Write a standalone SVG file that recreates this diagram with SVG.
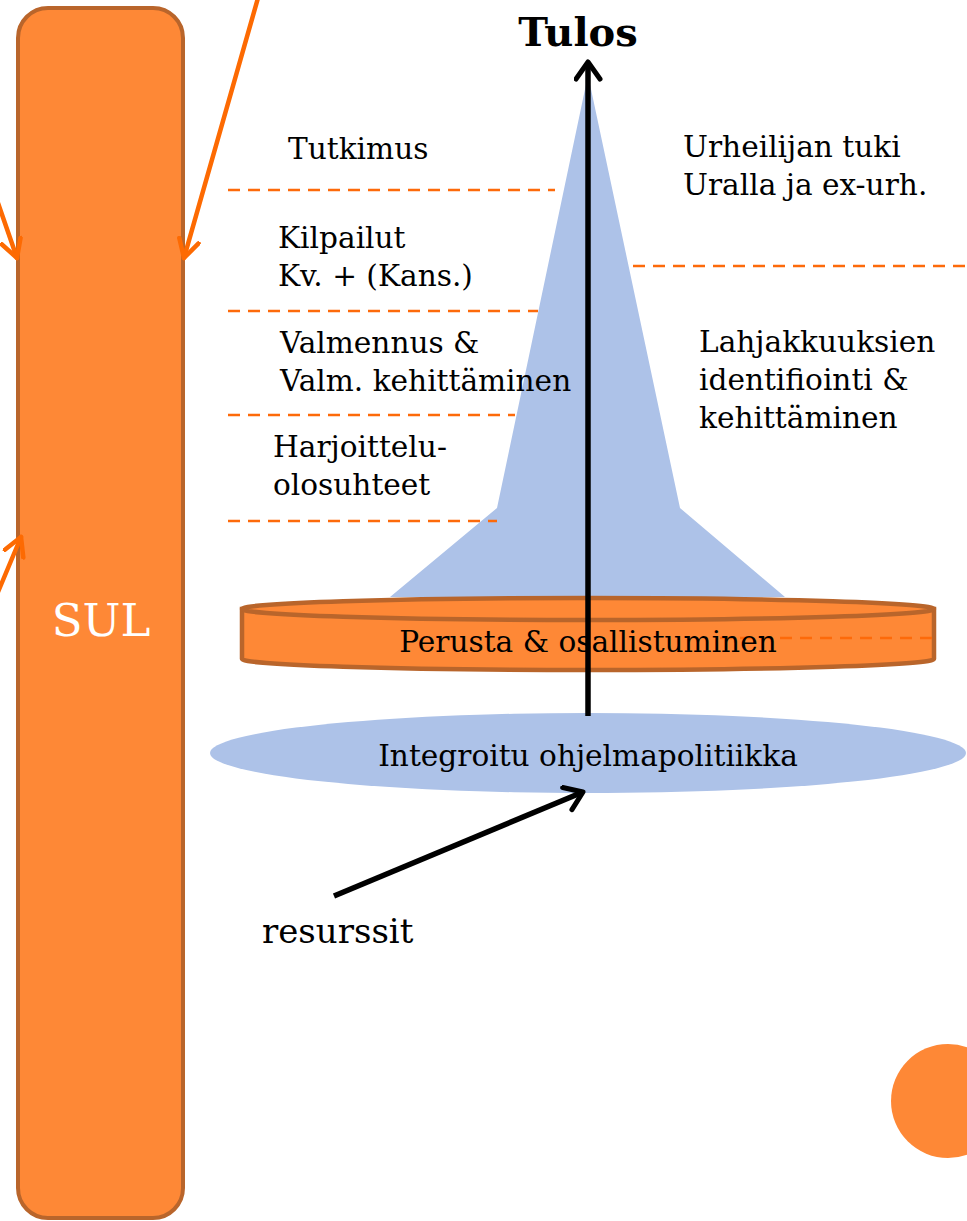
<svg xmlns="http://www.w3.org/2000/svg" width="967" height="1221" viewBox="0 0 967 1221">
<style>
.t{font-family:"DejaVu Serif","Liberation Serif",serif;font-size:29.6px;fill:#000}
.dash{stroke:#fd6a0a;stroke-width:2.5;stroke-dasharray:12 8;fill:none}
.oarr{stroke:#fd6a02;stroke-width:4.5;fill:none;stroke-linecap:round}
.barr{stroke:#000;stroke-width:5.5;fill:none}
</style>
<defs>
<marker id="oh" markerUnits="userSpaceOnUse" markerWidth="30" markerHeight="30" refX="20" refY="12" orient="auto">
<path d="M2,2 L20,12 L2,22" fill="none" stroke="#fd6a02" stroke-width="4.5" stroke-linecap="round" stroke-linejoin="round"/>
</marker>
<marker id="bh" markerUnits="userSpaceOnUse" markerWidth="30" markerHeight="30" refX="20" refY="14" orient="auto">
<path d="M3,2 L20,14 L3,26" fill="none" stroke="#000" stroke-width="5" stroke-linecap="round" stroke-linejoin="round"/>
</marker>
</defs>
<rect width="967" height="1221" fill="#fff"/>
<g id="sul">
<rect x="18" y="8" width="165" height="1210" rx="30" fill="#fe8836" stroke="#b9652b" stroke-width="4"/>
<text x="101" y="636" text-anchor="middle" style="font-family:'DejaVu Serif','Liberation Serif',serif;font-size:45px;fill:#fff">SUL</text>
</g>
<g id="pyramid">
<polygon points="588,75 497,508 390,597 785,597 680,508" fill="#adc2e8"/>
</g>
<g id="perusta">
<path d="M242,609 L242,659 A346,11 0 0 0 934,659 L934,609 Z" fill="#fe8836" stroke="#b9652b" stroke-width="4.5"/>
<ellipse cx="588" cy="609" rx="346" ry="11" fill="#fe8836" stroke="#b9652b" stroke-width="4.5"/>
<line class="dash" x1="720" y1="638" x2="934" y2="638"/>
<text class="t" x="588" y="652" text-anchor="middle">Perusta &amp; osallistuminen</text>
</g>
<g id="integroitu">
<ellipse cx="588" cy="753" rx="378" ry="40" fill="#adc2e8"/>
<text class="t" x="588" y="766" text-anchor="middle">Integroitu ohjelmapolitiikka</text>
</g>
<g id="levels">
<line class="dash" x1="228" y1="190" x2="555" y2="190"/>
<line class="dash" x1="228" y1="311" x2="538" y2="311"/>
<line class="dash" x1="228" y1="415" x2="515" y2="415"/>
<line class="dash" x1="228" y1="521" x2="497" y2="521"/>
<line class="dash" x1="633" y1="266" x2="967" y2="266"/>
<text class="t" x="288" y="159">Tutkimus</text>
<text class="t" x="278" y="248">Kilpailut</text>
<text class="t" x="278" y="286">Kv. + (Kans.)</text>
<text class="t" x="280" y="353">Valmennus &amp;</text>
<text class="t" x="280" y="391">Valm. kehittäminen</text>
<text class="t" x="273" y="457">Harjoittelu-</text>
<text class="t" x="273" y="495">olosuhteet</text>
<text class="t" x="683" y="157">Urheilijan tuki</text>
<text class="t" x="683" y="195">Uralla ja ex-urh.</text>
<text class="t" x="699" y="352">Lahjakkuuksien</text>
<text class="t" x="699" y="390">identifiointi &amp;</text>
<text class="t" x="699" y="428">kehittäminen</text>
</g>
<g id="tulos">
<text x="578" y="46" text-anchor="middle" style="font-family:'DejaVu Serif','Liberation Serif',serif;font-size:40px;font-weight:bold;fill:#000">Tulos</text>
</g>
<g id="resurssit">
<text x="262" y="943" style="font-family:'DejaVu Serif','Liberation Serif',serif;font-size:34px;fill:#000">resurssit</text>
</g>
<g id="circle">
<circle cx="948" cy="1101" r="57" fill="#fe8836"/>
</g>
<g id="connectors">
<line class="barr" x1="588" y1="716" x2="588" y2="62" marker-end="url(#bh)"/>
<line class="barr" x1="334" y1="896" x2="583" y2="792" marker-end="url(#bh)"/>
<line class="oarr" x1="258" y1="-2" x2="184" y2="258" marker-end="url(#oh)"/>
<line class="oarr" x1="-2" y1="203" x2="17" y2="258" marker-end="url(#oh)"/>
<line class="oarr" x1="-2" y1="592" x2="21" y2="537" marker-end="url(#oh)"/>
</g>
</svg>
